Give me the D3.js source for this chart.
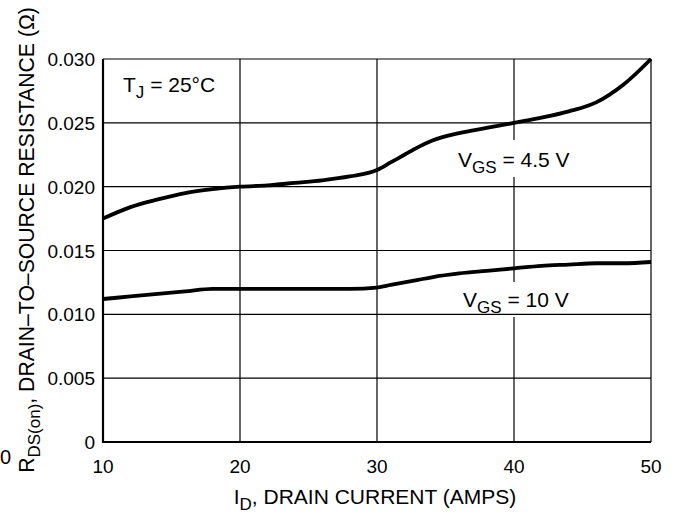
<!DOCTYPE html>
<html>
<head>
<meta charset="utf-8">
<script src="https://cdn.jsdelivr.net/npm/d3@7"></script>
<style>
  body { margin: 0; background: #fff; }
  text { font-family: "Liberation Sans", Arial, sans-serif; fill: #000; }
</style>
</head>
<body>
<div id="chart"></div>
<script>
// drain current (A)
const current = [10, 12, 14, 16, 18, 20, 22, 24, 26, 28, 30, 31, 32, 33, 34, 36, 38, 40, 42, 44, 46, 48, 50];
// R_DS(on) at VGS = 4.5 V
const rds45 = [0.0175, 0.0184, 0.0190, 0.0195, 0.0198, 0.0200, 0.0201, 0.0203, 0.0205, 0.0208, 0.0213,
  0.0219, 0.0225, 0.0231, 0.0236, 0.0242, 0.0246, 0.0250, 0.0254, 0.0259, 0.0266, 0.0280, 0.0300];
// R_DS(on) at VGS = 10 V
const rds10 = [0.0112, 0.0114, 0.0116, 0.0118, 0.0120, 0.0120, 0.0120, 0.0120, 0.0120, 0.0120, 0.0121,
  0.0123, 0.0125, 0.0127, 0.0129, 0.0132, 0.0134, 0.0136, 0.0138, 0.0139, 0.0140, 0.0140, 0.0141];
const xTicks = [10, 20, 30, 40, 50];
const yTicks = [0, 0.005, 0.010, 0.015, 0.020, 0.025, 0.030];

const width = 676, height = 521;
const margin = { top: 59, right: 25, bottom: 79, left: 103 };

const x = d3.scaleLinear().domain([10, 50]).range([margin.left, width - margin.right]);
const y = d3.scaleLinear().domain([0, 0.030]).range([height - margin.bottom, margin.top]);

const svg = d3.select("#chart").append("svg")
  .attr("width", width)
  .attr("height", height);

// vertical grid
svg.append("g")
  .selectAll("line")
  .data(xTicks.slice(1))
  .join("line")
  .attr("x1", d => x(d)).attr("x2", d => x(d))
  .attr("y1", y(0)).attr("y2", y(0.030))
  .attr("stroke", "#000").attr("stroke-width", 1.2);

// white backing behind curve labels (breaks the vertical grid line only)
const labelLayer = svg.append("g");

// horizontal grid
svg.append("g")
  .selectAll("line")
  .data(yTicks.slice(1))
  .join("line")
  .attr("x1", x(10)).attr("x2", x(50))
  .attr("y1", d => y(d)).attr("y2", d => y(d))
  .attr("stroke", "#000").attr("stroke-width", 1.2);

// left and bottom frame, heavier
svg.append("path")
  .attr("d", `M${x(10)},${y(0.030)}V${y(0)}H${x(50)}`)
  .attr("fill", "none").attr("stroke", "#000").attr("stroke-width", 2.2);

// tick labels
svg.append("g")
  .selectAll("text")
  .data(yTicks)
  .join("text")
  .attr("x", x(10) - 8)
  .attr("y", d => y(d) + 7)
  .attr("text-anchor", "end")
  .attr("font-size", 19)
  .text(d => d === 0 ? "0" : d3.format(".3f")(d));

svg.append("g")
  .selectAll("text")
  .data(xTicks)
  .join("text")
  .attr("x", d => x(d))
  .attr("y", y(0) + 31)
  .attr("text-anchor", "middle")
  .attr("font-size", 19)
  .text(d => d);

// stray label at far left edge
svg.append("text").attr("x", 0).attr("y", 464).attr("font-size", 20).text("0");

// curves
const line = d3.line().x(d => x(d[0])).y(d => y(d[1])).curve(d3.curveMonotoneX);
[rds45, rds10].forEach(series => {
  svg.append("path")
    .datum(current.map((c, i) => [c, series[i]]))
    .attr("d", line)
    .attr("fill", "none")
    .attr("stroke", "#000")
    .attr("stroke-width", 3.8);
});

// curve labels
function label(lx, ly, main, sub, rest, top, bottom) {
  const t = svg.append("text").attr("x", lx).attr("y", ly).attr("font-size", 21);
  t.append("tspan").text(main);
  t.append("tspan").attr("font-size", 17).attr("dy", 6).text(sub);
  t.append("tspan").attr("dy", -6).text(rest);
  const b = t.node().getBBox();
  labelLayer.append("rect")
    .attr("x", b.x - 3).attr("y", top)
    .attr("width", b.width + 6).attr("height", bottom - top)
    .attr("fill", "#fff");
}
label(458, 167, "V", "GS", " = 4.5 V", 140, 177);
label(463, 307, "V", "GS", " = 10 V", 282, 317);

// TJ annotation
const tj = svg.append("text").attr("x", 123).attr("y", 92).attr("font-size", 21);
tj.append("tspan").text("T");
tj.append("tspan").attr("font-size", 17).attr("dy", 6).text("J");
tj.append("tspan").attr("dy", -6).text(" = 25°C");

// axis titles
const xt = svg.append("text")
  .attr("x", 375).attr("y", 504)
  .attr("text-anchor", "middle").attr("font-size", 21);
xt.append("tspan").text("I");
xt.append("tspan").attr("font-size", 17).attr("dy", 6).text("D");
xt.append("tspan").attr("dy", -6).text(", DRAIN CURRENT (AMPS)");

const yt = svg.append("text")
  .attr("transform", `translate(34,240) rotate(-90)`)
  .attr("text-anchor", "middle").attr("font-size", 21.2);
yt.append("tspan").text("R");
yt.append("tspan").attr("font-size", 17).attr("dy", 6).text("DS(on)");
yt.append("tspan").attr("dy", -6).text(", DRAIN–TO–SOURCE RESISTANCE (Ω)");
</script>
</body>
</html>
